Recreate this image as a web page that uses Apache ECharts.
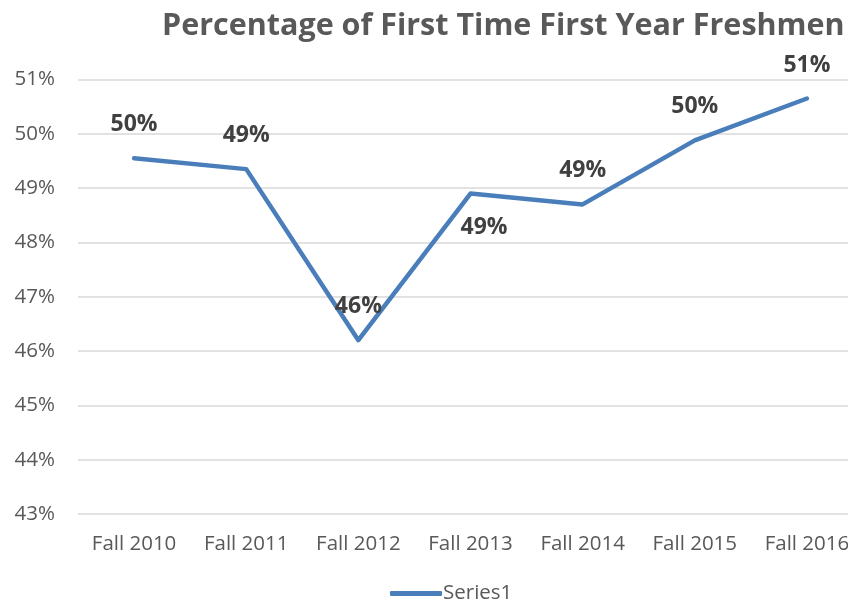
<!DOCTYPE html>
<html>
<head>
<meta charset="utf-8">
<script src="https://cdn.jsdelivr.net/npm/echarts@6/dist/echarts.min.js"></script>
<style>
  html, body { margin: 0; padding: 0; background: #fff; }
  #chart { width: 848px; height: 607px; }
</style>
</head>
<body>
<div id="chart"></div>
<script>
// values
const categories = ["Fall 2010", "Fall 2011", "Fall 2012", "Fall 2013", "Fall 2014", "Fall 2015", "Fall 2016"];
const values = [49.55, 49.35, 46.2, 48.9, 48.7, 49.88, 50.65];
const labelBelow = [false, false, false, true, false, false, false];

const font = "Open Sans";
const blue = "#4a7ebb";

const chart = echarts.init(document.getElementById("chart"));
chart.setOption({
  animation: false,
  title: {
    text: "Percentage of First Time First Year Freshmen",
    left: 157,
    top: 6,
    textStyle: { fontFamily: font, fontSize: 30.5, fontWeight: "bold", color: "#595959" }
  },
  legend: {
    bottom: -2,
    left: 385,
    itemWidth: 52,
    itemHeight: 5,
    itemGap: 4,
    icon: "roundRect",
    itemStyle: { color: blue, opacity: 1 },
    textStyle: { fontFamily: font, fontSize: 20.5, color: "#595959", padding: [0, 0, 0, -4] },
    data: ["Series1"]
  },
  grid: { left: 78, width: 785, top: 79.5, bottom: 93, outerBoundsMode: "none", containLabel: false },
  xAxis: {
    type: "category",
    data: categories,
    boundaryGap: true,
    axisLine: { show: false },
    axisTick: { show: false },
    axisLabel: { fontFamily: font, fontSize: 20.5, color: "#595959", margin: 20 }
  },
  yAxis: {
    type: "value",
    min: 43,
    max: 51,
    interval: 1,
    axisLine: { show: false },
    axisTick: { show: false },
    splitLine: { lineStyle: { color: "#d9d9d9", width: 1.5 } },
    axisLabel: { fontFamily: font, fontSize: 20.5, color: "#595959", margin: 23, formatter: "{value}%" }
  },
  series: [{
    name: "Series1",
    type: "line",
    symbol: "circle",
    symbolSize: 0.1,
    showSymbol: true,
    lineStyle: { color: blue, width: 4.5, cap: "round", join: "round" },
    itemStyle: { color: blue },
    labelLayout: { hideOverlap: false },
    data: values.map((v, i) => ({
      value: v,
      label: labelBelow[i] ? { position: "bottom", padding: [0, 0, 0, 27] } : {}
    })),
    label: {
      show: true,
      position: "top",
      distance: 22,
      fontFamily: font,
      fontSize: 23,
      fontWeight: "bold",
      color: "#404040",
      formatter: p => Math.round(p.value) + "%"
    }
  }]
});
</script>
</body>
</html>
